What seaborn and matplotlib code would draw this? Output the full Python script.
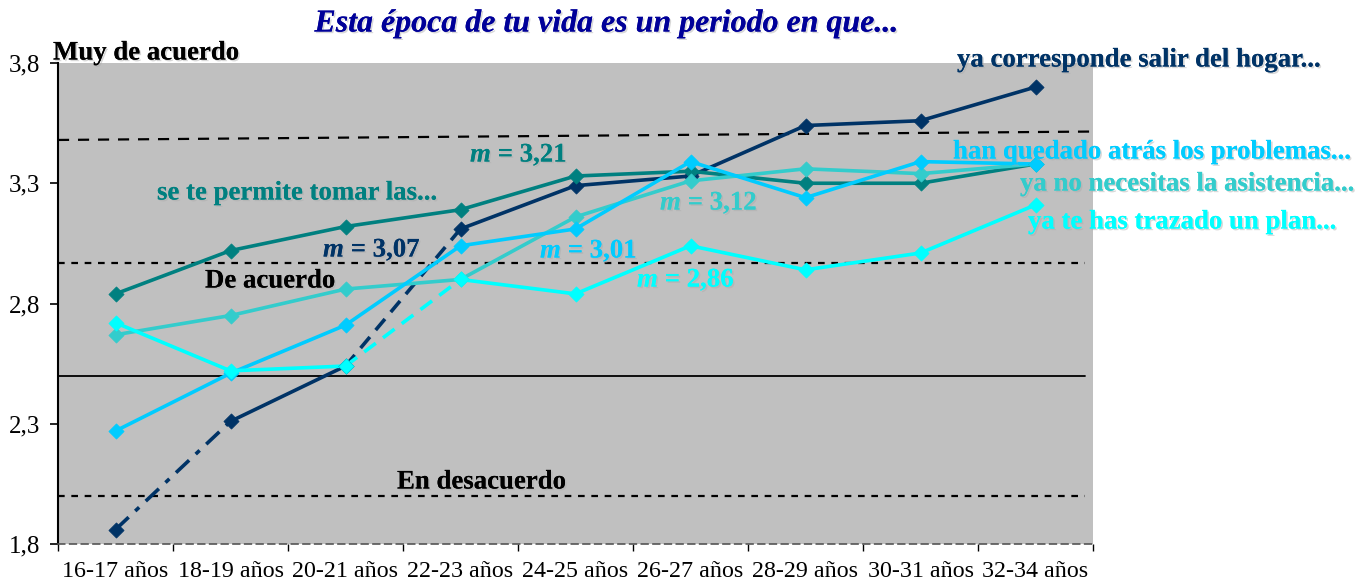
import matplotlib
matplotlib.use("Agg")
import matplotlib.pyplot as plt
import matplotlib.patheffects as pe
import matplotlib.transforms as mtransforms
import seaborn as sns
import pandas as pd

# ---------------- data ----------------
categories = ["16-17 años", "18-19 años", "20-21 años", "22-23 años", "24-25 años",
              "26-27 años", "28-29 años", "30-31 años", "32-34 años"]

salir_hogar = [1.86, 2.31, 2.54, 3.11, 3.29, 3.33, 3.54, 3.56, 3.70]
tomar_las = [2.84, 3.02, 3.12, 3.19, 3.33, 3.35, 3.30, 3.30, 3.38]
asistencia = [2.67, 2.75, 2.86, 2.90, 3.16, 3.31, 3.36, 3.34, 3.38]
problemas = [2.27, 2.51, 2.71, 3.04, 3.11, 3.39, 3.24, 3.39, 3.38]
plan = [2.72, 2.52, 2.54, 2.90, 2.84, 3.04, 2.94, 3.01, 3.21]

series_names = ["ya corresponde salir del hogar...", "se te permite tomar las...",
                "ya no necesitas la asistencia...", "han quedado atrás los problemas...",
                "ya te has trazado un plan..."]
series_values = [salir_hogar, tomar_las, asistencia, problemas, plan]
series_means = ["3,07", "3,21", "3,12", "3,01", "2,86"]

yticks = [1.8, 2.3, 2.8, 3.3, 3.8]
ytick_labels = ["1,8", "2,3", "2,8", "3,3", "3,8"]

ref_muy_de_acuerdo = [3.48, 3.515]
ref_de_acuerdo = 2.97
ref_neutral = 2.50
ref_en_desacuerdo = 2.0

# ---------------- style ----------------
colors = ["#003366", "#008080", "#33CCCC", "#00CCFF", "#00FFFF"]
title_color = "#000099"
serif = ["Liberation Serif", "DejaVu Serif"]

sns.set_theme(style="white")
plt.rcParams["font.family"] = serif

fig = plt.figure(figsize=(13.7, 5.85), dpi=100)
ax = fig.add_axes([58 / 1370, 1 - 544 / 585, (1093 - 58) / 1370, (544 - 63) / 585])
ax.set_facecolor("#C0C0C0")

rows = []
for name, vals in zip(series_names, series_values):
    for i, (c, v) in enumerate(zip(categories, vals)):
        rows.append({"serie": name, "idx": i, "edad": c, "valor": v})
df = pd.DataFrame(rows)

# segment styles (index ranges) per series: (start, end, linestyle)
segments = {
    series_names[0]: [(0, 1, (0, (5, 2.5, 1.5, 2.5))), (1, 2, "-"), (2, 3, (0, (4, 2.5))), (3, 8, "-")],
    series_names[4]: [(0, 2, "-"), (2, 3, (0, (4, 2.5))), (3, 8, "-")],
}

# reference lines
xl = [-0.5, 8.5]
ax.plot(xl, ref_muy_de_acuerdo, color="black", lw=1.6, ls=(0, (5, 4)), zorder=1)
ax.plot([-0.5, 8.43], [ref_de_acuerdo] * 2, color="black", lw=1.6, ls=(0, (3, 3)), zorder=1)
ax.plot([-0.5, 8.43], [ref_neutral] * 2, color="black", lw=1.3, ls="-", zorder=1)
ax.plot([-0.5, 8.43], [ref_en_desacuerdo] * 2, color="black", lw=1.6, ls=(0, (3, 3)), zorder=1)

draw_order = [1, 2, 3, 0, 4]
for k in draw_order:
    name = series_names[k]
    sub = df[df["serie"] == name]
    segs = segments.get(name, [(0, 8, "-")])
    for (a, b, ls) in segs:
        part = sub[(sub["idx"] >= a) & (sub["idx"] <= b)]
        sns.lineplot(data=part, x="idx", y="valor", ax=ax, color=colors[k],
                     linewidth=2.6, linestyle=ls, zorder=3 + k * 0.1, legend=False)
    sns.scatterplot(data=sub, x="idx", y="valor", ax=ax, color=colors[k], marker="D",
                    s=60, edgecolor=colors[k], linewidth=0.5, zorder=4 + k * 0.1, legend=False)

ax.set_xlim(-0.5, 8.5)
ax.set_ylim(1.8, 3.8)
ax.set_yticks(yticks)
ax.set_yticklabels(ytick_labels)
ax.set_xticks(range(len(categories)))
ax.set_xticklabels(categories)
ax.set_xticks([i - 0.5 for i in range(len(categories) + 1)], minor=True)
ax.tick_params(axis="x", which="major", length=0, pad=12, labelsize=17.3, colors="black")
ax.tick_params(axis="x", which="minor", length=5, width=1, direction="out", colors="black", bottom=True)
ax.tick_params(axis="y", which="major", length=6, width=1.2, direction="out", left=True,
               labelsize=18, pad=7, colors="black")
ax.set_xlabel("")
ax.set_ylabel("")
for s in ["top", "right"]:
    ax.spines[s].set_visible(False)
ax.spines["left"].set_color("black")
ax.spines["left"].set_linewidth(1.5)
ax.spines["bottom"].set_color("#555555")
ax.spines["bottom"].set_linestyle((0, (4, 3)))
ax.spines["bottom"].set_linewidth(1.2)

shadow = [pe.withSimplePatchShadow(offset=(1.2, -1.2), shadow_rgbFace="#aaaaaa", alpha=0.45), pe.Normal()]

def px(x, y):
    return (x / 1370, 1 - y / 585)

LS = 19.3

# title
fig.text(*px(607, 24), "Esta época de tu vida es un periodo en que...", ha="center", va="center",
         fontsize=23, fontweight="bold", fontstyle="italic", color=title_color, path_effects=shadow)

# level labels
fig.text(*px(53, 53), "Muy de acuerdo", ha="left", va="center", fontsize=LS, fontweight="bold",
         color="black", path_effects=shadow)
fig.text(*px(205, 281), "De acuerdo", ha="left", va="center", fontsize=LS, fontweight="bold",
         color="black", path_effects=shadow)
fig.text(*px(397, 482), "En desacuerdo", ha="left", va="center", fontsize=LS, fontweight="bold",
         color="black", path_effects=shadow)

# series labels
label_pos = [(957, 60), (157, 193), (1020, 184), (953, 152), (1028, 222)]
for k, (x, y) in enumerate(label_pos):
    fig.text(*px(x, y), series_names[k], ha="left", va="center", fontsize=LS, fontweight="bold",
             color=colors[k], path_effects=shadow)

# mean labels
mean_pos = [(323, 250), (470, 155), (660, 203), (540, 251), (637, 280)]
for k, (x, y) in enumerate(mean_pos):
    fig.text(*px(x, y), "m", ha="left", va="center", fontsize=LS, fontweight="bold",
             fontstyle="italic", color=colors[k], path_effects=shadow)
    tr = mtransforms.offset_copy(fig.transFigure, fig=fig, x=21, y=0, units="dots")
    fig.text(*px(x, y), " = " + series_means[k], ha="left", va="center", fontsize=LS,
             fontweight="bold", color=colors[k], transform=tr, path_effects=shadow)

fig.savefig("out.png", dpi=100)
